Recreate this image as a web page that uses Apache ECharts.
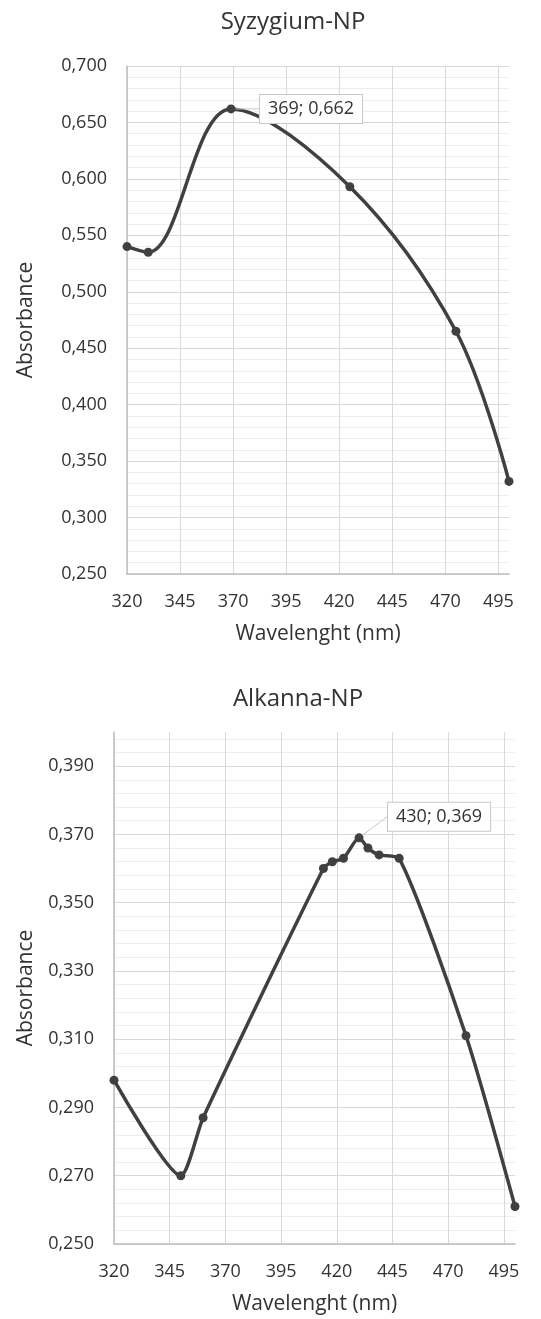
<!DOCTYPE html>
<html>
<head>
<meta charset="utf-8">
<script src="https://cdn.jsdelivr.net/npm/echarts@6/dist/echarts.min.js"></script>
<style>
  html, body { margin: 0; padding: 0; background: #fff; }
  #chart { width: 541px; height: 1319px; }
</style>
</head>
<body>
<div id="chart"></div>
<script>
// Syzygium-NP
var syzWave = [320, 330, 369, 425, 475, 500]
var syzAbs = [0.540, 0.535, 0.662, 0.593, 0.465, 0.332]
var syzPeak = 2
// Alkanna-NP
var alkWave = [320, 350, 360, 414, 418, 423, 430, 434, 439, 448, 478, 500]
var alkAbs = [0.298, 0.270, 0.287, 0.360, 0.362, 0.363, 0.369, 0.366, 0.364, 0.363, 0.311, 0.261]
var alkPeak = 6

var font = 'Open Sans'
var textColor = '#333'

function comma (v) {
  return v.toFixed(3).replace('.', ',')
}

function points (xs, ys, peak) {
  return xs.map(function (x, i) {
    if (i !== peak) return [x, ys[i]]
    return {
      value: [x, ys[i]],
      label: {
        show: true,
        position: 'inside',
        formatter: x + '; ' + comma(ys[i]),
        fontFamily: font,
        fontSize: 18,
        color: textColor,
        backgroundColor: '#fff',
        borderColor: '#c8c8c8',
        borderWidth: 1,
        padding: [6, 8, 4, 8]
      },
      labelLine: {
        show: true,
        lineStyle: { color: '#c8c8c8', width: 1 }
      }
    }
  })
}

function xAxis (idx) {
  return {
    type: 'value',
    gridIndex: idx,
    min: 320,
    max: 500,
    interval: 25,
    name: 'Wavelenght (nm)',
    nameLocation: 'middle',
    nameGap: 50,
    nameTextStyle: { fontFamily: font, fontSize: 21, color: textColor },
    axisLine: { show: true, lineStyle: { color: '#bfbfbf', width: 1.5 } },
    axisTick: { show: false },
    axisLabel: { fontFamily: font, fontSize: 18, color: textColor, margin: 19, showMaxLabel: false },
    splitLine: { show: true, showMaxLine: false, lineStyle: { color: '#d9d9d9', width: 1 } }
  }
}

function yAxis (idx, min, max, step, gap, hideMax) {
  return {
    type: 'value',
    gridIndex: idx,
    min: min,
    max: max,
    interval: step,
    name: 'Absorbance',
    nameLocation: 'middle',
    nameGap: gap,
    nameTextStyle: { fontFamily: font, fontSize: 21, color: textColor },
    axisLine: { show: true, lineStyle: { color: '#bfbfbf', width: 1.5 } },
    axisTick: { show: false },
    axisLabel: {
      fontFamily: font,
      fontSize: 18,
      color: textColor,
      margin: 20,
      showMaxLabel: !hideMax,
      formatter: function (v) { return comma(v) }
    },
    splitLine: { show: true, showMaxLine: !hideMax, lineStyle: { color: '#d9d9d9', width: 1 } },
    minorTick: { show: false, splitNumber: 5 },
    minorSplitLine: { show: true, lineStyle: { color: '#ededed', width: 1 } }
  }
}

function series (idx, xs, ys, peak, smooth, dx, dy) {
  return {
    type: 'line',
    xAxisIndex: idx,
    yAxisIndex: idx,
    data: points(xs, ys, peak),
    smooth: smooth,
    symbol: 'circle',
    symbolSize: 9,
    lineStyle: { color: '#404040', width: 3.5 },
    itemStyle: { color: '#404040' },
    labelLayout: { dx: dx, dy: dy },
    emphasis: { disabled: true },
    animation: false
  }
}

var chart = echarts.init(document.getElementById('chart'))
chart.setOption({
  backgroundColor: '#fff',
  title: [
    { text: 'Syzygium-NP', left: 288, top: 5, textAlign: 'center',
      textStyle: { fontFamily: font, fontSize: 24, fontWeight: 'normal', color: textColor } },
    { text: 'Alkanna-NP', left: 293, top: 682, textAlign: 'center',
      textStyle: { fontFamily: font, fontSize: 24, fontWeight: 'normal', color: textColor } }
  ],
  grid: [
    { left: 127, top: 66, width: 382, height: 508, outerBoundsMode: 'none' },
    { left: 114, top: 732, width: 401, height: 512, outerBoundsMode: 'none' }
  ],
  xAxis: [xAxis(0), xAxis(1)],
  yAxis: [
    yAxis(0, 0.25, 0.70, 0.05, 90, false),
    yAxis(1, 0.25, 0.40, 0.02, 77, true)
  ],
  series: [
    series(0, syzWave, syzAbs, syzPeak, 0.35, 80, 0),
    series(1, alkWave, alkAbs, alkPeak, 0.22, 80, -21)
  ]
})
</script>
</body>
</html>
